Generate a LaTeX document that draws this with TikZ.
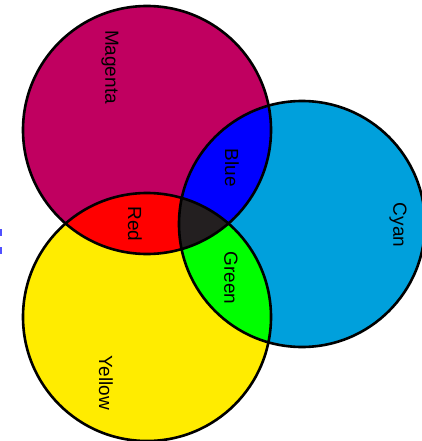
\documentclass[tikz,border=0pt]{standalone}
\usepackage{fontspec}
\setmainfont{Liberation Sans}
\definecolor{cmag}{RGB}{192,0,96}
\definecolor{ccyan}{RGB}{0,160,220}
\definecolor{cyel}{RGB}{255,236,0}
\definecolor{cblue}{RGB}{0,0,255}
\definecolor{cred}{RGB}{255,0,0}
\definecolor{cgreen}{RGB}{0,255,0}
\definecolor{cdark}{RGB}{35,31,32}
\definecolor{cmark}{RGB}{80,80,255}
\tikzset{
  lbl/.style={rotate=-90, font=\fontsize{19}{21}\selectfont, text=black, inner sep=0pt},
  rim/.style={draw=black, line width=2.6pt}
}
\begin{document}
\begin{tikzpicture}[x=1pt,y=-1pt]
\useasboundingbox (0,0) rectangle (421,441);
\fill[white] (0,0) rectangle (421,441);
\def\M{(147,130) circle (124)}
\def\Y{(147,317) circle (124)}
\def\C{(302,224) circle (123)}
\fill[cmag] \M;
\fill[cyel] \Y;
\fill[ccyan] \C;
\begin{scope}\clip \M; \fill[cblue] \C; \end{scope}
\begin{scope}\clip \M; \fill[cred] \Y; \end{scope}
\begin{scope}\clip \Y; \fill[cgreen] \C; \end{scope}
\begin{scope}\clip \M; \clip \Y; \fill[cdark] \C; \end{scope}
\draw[rim] \M;
\draw[rim] \Y;
\draw[rim] \C;
\fill[cmark] (0,229) rectangle (2,236);
\fill[cmark] (0,247) rectangle (2,254);
\node[lbl] (magenta) at (110,67) {Magenta};
\node[lbl] (blue) at (232,168) {Blue};
\node[lbl] (red) at (135,224) {Red};
\node[lbl] (green) at (231,278) {Green};
\node[lbl] (cyan) at (398,225) {Cyan};
\node[lbl] (yellow) at (106,383) {Yellow};
\end{tikzpicture}
\end{document}
